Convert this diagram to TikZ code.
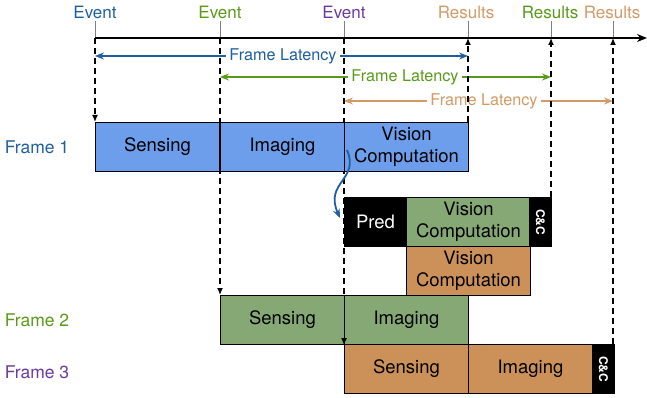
\documentclass[tikz,border=0pt]{standalone}
\usepackage{fontspec}
\setmainfont{TeX Gyre Heros}
\usepackage{tikz}
\usetikzlibrary{arrows.meta}

\definecolor{fblue}{HTML}{1F5F9F}
\definecolor{fgreen}{HTML}{5A9A1A}
\definecolor{fpurple}{HTML}{6A3AA2}
\definecolor{ftan}{HTML}{D49A66}
\definecolor{boxblue}{HTML}{6D9EEB}
\definecolor{boxgreen}{HTML}{86A874}
\definecolor{boxtan}{HTML}{CC9158}

\tikzset{
    stagebox/.style={draw, line width=1pt, anchor=north west, inner sep=0pt,
        minimum width=124pt, minimum height=49pt, align=center,
        font=\fontsize{18.5}{22}\selectfont},
    ccbox/.style={stagebox, fill=black, text=white, minimum width=22pt},
    cctext/.style={rotate=-90, text=white, font=\fontsize{12}{13}\selectfont\bfseries, inner sep=0pt},
    timetick/.style={draw=gray, line width=1pt},
    dashline/.style={dashed, dash pattern=on 6pt off 4pt, line width=1.3pt, -{Latex[length=7pt,width=6pt]}},
    latency/.style={line width=1.1pt, {Stealth[length=9pt,width=7pt,inset=3pt]}-{Stealth[length=9pt,width=7pt,inset=3pt]}},
    toplabel/.style={font=\fontsize{17}{18}\selectfont, inner sep=0pt},
    latlabel/.style={font=\fontsize{16.2}{17}\selectfont, fill=white, inner sep=3pt},
    framelabel/.style={font=\fontsize{17.5}{19}\selectfont, inner sep=0pt}
}

\begin{document}
\begin{tikzpicture}[x=1pt,y=-1pt]
    \useasboundingbox (0,0) rectangle (647,398);

    % time axis
    \coordinate (e1) at (95,38);
    \coordinate (e2) at (220,38);
    \coordinate (e3) at (344,38);
    \coordinate (r1) at (468,38);
    \coordinate (r2) at (551,38);
    \coordinate (r3) at (613,38);
    \foreach \t in {e1,e2,e3,r1,r2,r3}
        \draw[timetick] (\t) -- ++(0,-17);
    \draw[line width=2pt, -{Stealth[length=10pt,width=8pt]}] (e1) -- (647,38);

    % labels on the axis
    \node[toplabel, text=fblue] (ev1) at (95,12) {Event};
    \node[toplabel, text=fgreen] (ev2) at (220,12) {Event};
    \node[toplabel, text=fpurple] (ev3) at (344,12) {Event};
    \node[toplabel, text=ftan] (res1) at (466,12) {Results};
    \node[toplabel, text=fgreen] (res2) at (550,12) {Results};
    \node[toplabel, text=ftan] (res3) at (612,12) {Results};

    % frame latency
    \coordinate (la1) at (95,56);
    \coordinate (lb1) at (468,56);
    \coordinate (la2) at (220,77);
    \coordinate (lb2) at (551,77);
    \coordinate (la3) at (344,101);
    \coordinate (lb3) at (613,101);
    \draw[latency, fblue] (la1) -- (lb1);
    \draw[latency, fgreen] (la2) -- (lb2);
    \draw[latency, ftan] (la3) -- (lb3);
    \node[latlabel, text=fblue] (lat1) at (283,56) {Frame Latency};
    \node[latlabel, text=fgreen] (lat2) at (405,77) {Frame Latency};
    \node[latlabel, text=ftan] (lat3) at (484,101) {Frame Latency};

    % frame names
    \node[framelabel, text=fblue] (f1) at (37,147) {Frame 1};
    \node[framelabel, text=fgreen] (f2) at (37,320) {Frame 2};
    \node[framelabel, text=fpurple] (f3) at (37,372) {Frame 3};

    % dashed event / result lines
    \path (95,122) coordinate (s1top)
          (220,295) coordinate (s2top)
          (344,344) coordinate (s3top)
          (468,122) coordinate (v1top)
          (551,197) coordinate (cc1top)
          (613,344) coordinate (cc3top);
    \draw[dashline] (e1) -- (s1top);
    \draw[dashline] (e2) -- (s2top);
    \draw[dashline] (e3) -- (s3top);
    \draw[dashline] (v1top) -- (r1);
    \draw[dashline] (cc1top) -- (r2);
    \draw[dashline] (cc3top) -- (r3);

    % frame 1
    \node[stagebox, fill=boxblue] (sens1) at (95,122) {Sensing};
    \node[stagebox, fill=boxblue] (img1) at (220,122) {Imaging};
    \node[stagebox, fill=boxblue] (vis1) at (344,122) {Vision\\Computation};

    % prediction path
    \node[stagebox, fill=black, text=white, minimum width=62pt] (pred) at (344,197) {Pred};
    \node[stagebox, fill=boxgreen] (vis2) at (406,197) {Vision\\Computation};
    \node[ccbox] (cc1) at (529,197) {};
    \node[cctext] (cc1t) at (cc1.center) {C\&C};
    \node[stagebox, fill=boxtan] (vis3) at (406,246) {Vision\\Computation};

    % frame 2
    \node[stagebox, fill=boxgreen] (sens2) at (220,295) {Sensing};
    \node[stagebox, fill=boxgreen] (img2) at (344,295) {Imaging};
    \draw[line width=1pt, -{Latex[length=7pt,width=6pt]}] (img2.north west) -- (img2.south west);

    % frame 3
    \node[stagebox, fill=boxtan] (sens3) at (344,344) {Sensing};
    \node[stagebox, fill=boxtan] (img3) at (468,344) {Imaging};
    \node[ccbox] (cc3) at (592,344) {};
    \node[cctext] (cc3t) at (cc3.center) {C\&C};

    % hand-off arrow
    \coordinate (hand) at (347,150);
    \draw[fblue, line width=1.8pt, -{Stealth[length=9pt,width=7pt]}] (hand) .. controls (360,180) and (324,182) .. ([xshift=-4pt,yshift=4pt]pred.west);
\end{tikzpicture}
\end{document}
